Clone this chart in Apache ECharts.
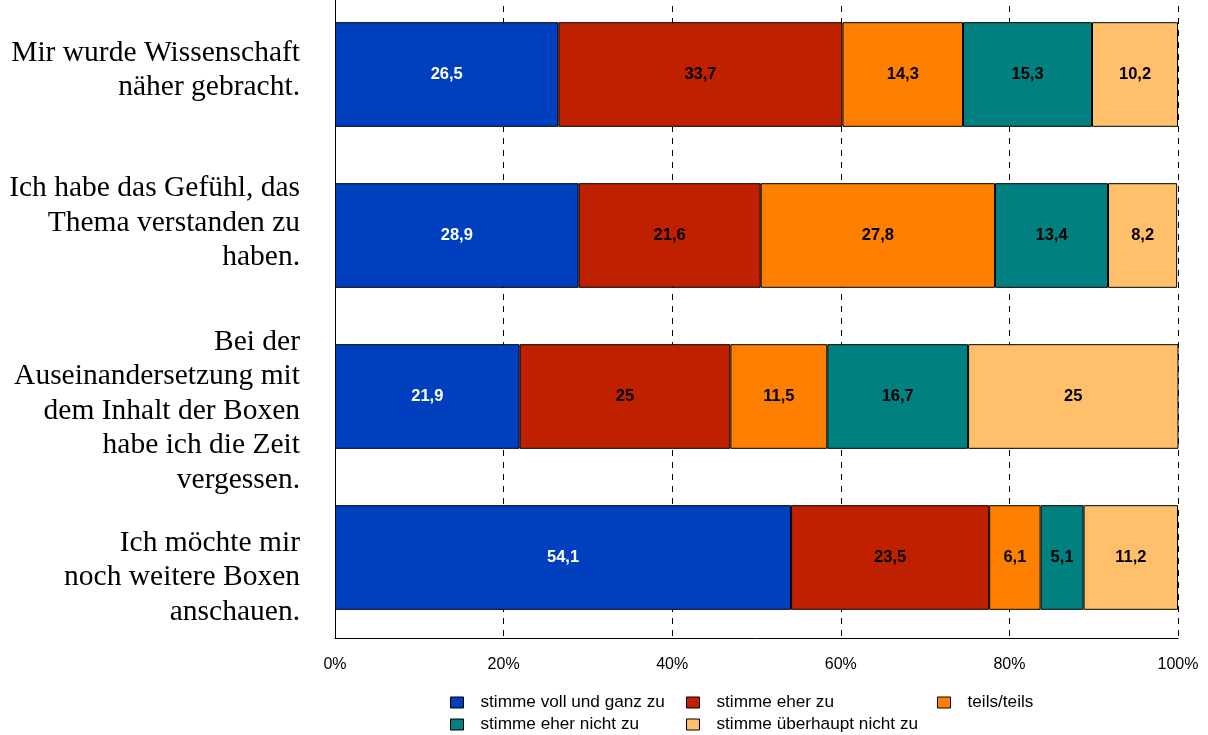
<!DOCTYPE html>
<html>
<head>
<meta charset="utf-8">
<script src="https://cdn.jsdelivr.net/npm/echarts@6/dist/echarts.min.js"></script>
<style>
  html, body { margin: 0; padding: 0; background: #fff; }
  #chart { width: 1208px; height: 735px; }
</style>
</head>
<body>
<div id="chart"></div>
<script>
// Kategorien (von oben nach unten)
var categories = [
  'Mir wurde Wissenschaft\nnäher gebracht.',
  'Ich habe das Gefühl, das\nThema verstanden zu\nhaben.',
  'Bei der\nAuseinandersetzung mit\ndem Inhalt der Boxen\nhabe ich die Zeit\nvergessen.',
  'Ich möchte mir\nnoch weitere Boxen\nanschauen.'
];
var seriesNames = ['stimme voll und ganz zu', 'stimme eher zu', 'teils/teils', 'stimme eher nicht zu', 'stimme überhaupt nicht zu'];
var vollUndGanz = [26.5, 28.9, 21.9, 54.1];
var eherZu = [33.7, 21.6, 25, 23.5];
var teilsTeils = [14.3, 27.8, 11.5, 6.1];
var eherNicht = [15.3, 13.4, 16.7, 5.1];
var ueberhauptNicht = [10.2, 8.2, 25, 11.2];
var xTicks = [0, 20, 40, 60, 80, 100];

var colors = ['#0040BF', '#BF2000', '#FF8000', '#008080', '#FFBF6B'];
var labelColors = ['#fff', '#000', '#000', '#000', '#000'];
var allData = [vollUndGanz, eherZu, teilsTeils, eherNicht, ueberhauptNicht];

// Achsenbeschriftungen sitzen im Original nicht ganz mittig:
// Leerzeile oben (positiv) bzw. unten (negativ), Höhe in px
var labelSpacer = [-9, -25, 29, 40];

var myChart = echarts.init(document.getElementById('chart'));

var series = allData.map(function (d, i) {
  return {
    name: seriesNames[i],
    type: 'bar',
    stack: 'total',
    barWidth: '65%',
    data: d,
    itemStyle: { color: colors[i], borderColor: '#000', borderWidth: 1 },
    label: {
      show: true,
      position: 'inside',
      color: labelColors[i],
      fontFamily: 'Liberation Sans, Arial, sans-serif',
      fontWeight: 'bold',
      fontSize: 16.5,
      formatter: function (p) { return String(p.value).replace('.', ','); }
    },
    animation: false
  };
});

// Legende: 3 Spalten, 2 Zeilen
var legendPos = [
  { left: 450, top: 694 },
  { left: 686, top: 694 },
  { left: 937, top: 694 },
  { left: 450, top: 716 },
  { left: 686, top: 716 }
];
var legends = seriesNames.map(function (n, i) {
  return {
    data: [n],
    left: legendPos[i].left,
    top: legendPos[i].top,
    padding: 0,
    itemWidth: 13,
    itemHeight: 11,
    itemGap: 0,
    selectedMode: false,
    icon: 'rect',
    itemStyle: { borderColor: '#000', borderWidth: 1 },
    textStyle: { fontFamily: 'Liberation Sans, Arial, sans-serif', fontSize: 17.2, color: '#000', padding: [0, 0, 0, 12] }
  };
});

var rich = {};
labelSpacer.forEach(function (h, i) {
  rich['s' + i] = { fontSize: 1, lineHeight: Math.abs(h), height: Math.abs(h) };
});

var option = {
  backgroundColor: '#fff',
  color: colors,
  legend: legends,
  grid: { left: 335, right: 30, top: -6, bottom: 97, containLabel: false, outerBoundsMode: 'none' },
  xAxis: {
    type: 'value',
    min: xTicks[0],
    max: xTicks[xTicks.length - 1],
    interval: 20,
    axisLine: { show: true, lineStyle: { color: '#000', width: 1 } },
    axisTick: { show: false },
    axisLabel: {
      formatter: '{value}%',
      color: '#000',
      fontFamily: 'Liberation Sans, Arial, sans-serif',
      fontSize: 16,
      margin: 19
    },
    splitLine: { show: true, lineStyle: { color: '#000', width: 1, type: [6, 6] } }
  },
  yAxis: {
    type: 'category',
    inverse: true,
    data: categories,
    axisLine: { show: true, lineStyle: { color: '#000', width: 1 } },
    axisTick: { show: false },
    axisLabel: {
      interval: 0,
      color: '#000',
      fontFamily: 'Liberation Serif, Times New Roman, serif',
      fontSize: 29.5,
      lineHeight: 34.5,
      align: 'right',
      margin: 35,
      rich: rich,
      formatter: function (value, index) {
        var sp = '{s' + index + '| }';
        return labelSpacer[index] > 0 ? sp + '\n' + value : value + '\n' + sp;
      }
    }
  },
  series: series
};

myChart.setOption(option);
</script>
</body>
</html>
